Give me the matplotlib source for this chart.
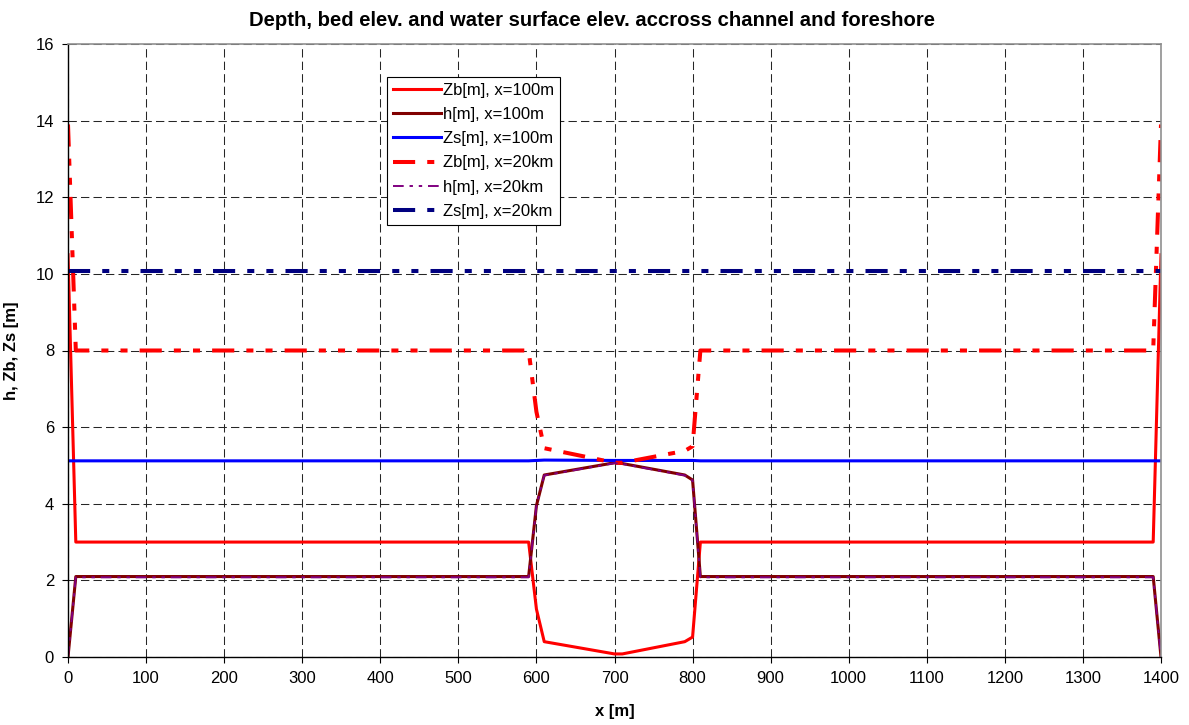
import matplotlib
matplotlib.use("Agg")
import matplotlib.pyplot as plt

# ---- data ----
x_m = [0, 10, 590, 600, 610, 700, 710, 790, 800, 810, 1390, 1400]
zb_100m = [10.5, 3.0, 3.0, 1.25, 0.4, 0.08, 0.08, 0.4, 0.52, 3.0, 3.0, 10.5]
h_100m = [0.0, 2.1, 2.1, 3.95, 4.75, 5.07, 5.05, 4.75, 4.62, 2.1, 2.1, 0.0]
zs_100m = [5.12, 5.12, 5.12, 5.13, 5.14, 5.13, 5.13, 5.13, 5.13, 5.12, 5.12, 5.12]
zb_20km = [13.9, 8.0, 8.0, 6.4, 5.45, 5.07, 5.07, 5.38, 5.5, 8.0, 8.0, 13.9]
h_20km = [0.0, 2.08, 2.08, 3.95, 4.74, 5.06, 5.04, 4.74, 4.61, 2.08, 2.08, 0.0]
zs_20km = [10.08, 10.08, 10.08, 10.08, 10.08, 10.08, 10.08, 10.08, 10.08, 10.08, 10.08, 10.08]

labels = ["Zb[m], x=100m", "h[m], x=100m", "Zs[m], x=100m",
          "Zb[m], x=20km", "h[m], x=20km", "Zs[m], x=20km"]
x_ticks = list(range(0, 1401, 100))
y_ticks = list(range(0, 17, 2))

plt.rcParams['font.family'] = ['Liberation Sans', 'DejaVu Sans']

fig = plt.figure(figsize=(11.89, 7.25), dpi=100)
ax = fig.add_axes([68/1189, 1-657/725, (1161-68)/1189, (657-44)/725])

ldd = (0, (5.5, 3, 1.75, 3, 1.75, 3))

ax.plot(x_m, zb_100m, color='#FF0000', lw=2.2, label=labels[0])
ax.plot(x_m, h_100m, color='#800000', lw=2.2, label=labels[1])
ax.plot(x_m, zs_100m, color='#0000FF', lw=2.2, label=labels[2])
ax.plot(x_m, zb_20km, color='#FF0000', lw=2.9, linestyle=ldd, label=labels[3])
ax.plot(x_m, h_20km, color='#800080', lw=1.4, linestyle=ldd, label=labels[4])
ax.plot(x_m, zs_20km, color='#000080', lw=2.9, linestyle=ldd, label=labels[5])

ax.set_xlim(0, 1400)
ax.set_ylim(0, 16)
ax.set_xticks(x_ticks)
ax.set_yticks(y_ticks)
ax.tick_params(labelsize=12, direction='out', length=4, width=0.8, pad=6)
ax.grid(True, color='0.15', linestyle=(0, (8, 4)), linewidth=0.75)
ax.set_axisbelow(True)

for s in ['left', 'bottom']:
    ax.spines[s].set_color('black')
    ax.spines[s].set_linewidth(1.0)
for s in ['top', 'right']:
    ax.spines[s].set_color('#909090')
    ax.spines[s].set_linewidth(1.2)

ax.set_xlabel('x [m]', fontsize=12, fontweight='bold', labelpad=13)
ax.set_ylabel('h, Zb, Zs [m]', fontsize=12, fontweight='bold', labelpad=12)
fig.text(592/1189, 1-20/725,
         'Depth, bed elev. and water surface elev. accross channel and foreshore',
         ha='center', va='center', fontsize=14.6, fontweight='bold')

leg = ax.legend(loc='upper left', bbox_to_anchor=(0.292, 0.946), fontsize=12,
                handlelength=2.9, handletextpad=0.1, labelspacing=0.55,
                borderpad=0.35, borderaxespad=0, fancybox=False, framealpha=1,
                edgecolor='black')
leg.get_frame().set_linewidth(0.8)

fig.savefig('out.png', dpi=100)
